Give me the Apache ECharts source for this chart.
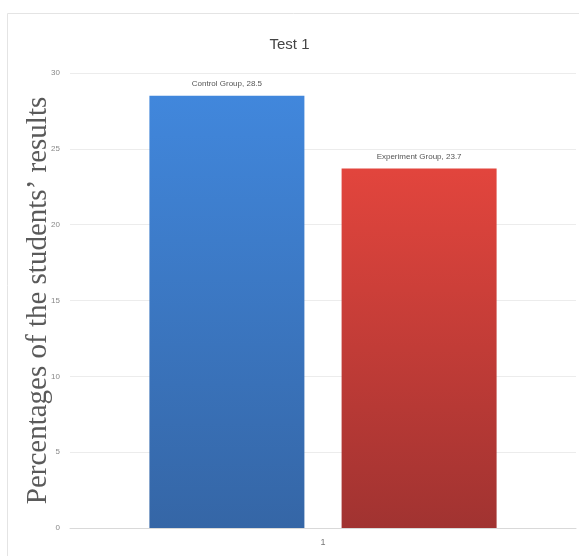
<!DOCTYPE html>
<html>
<head>
<meta charset="utf-8">
<script src="https://cdn.jsdelivr.net/npm/echarts@6/dist/echarts.min.js"></script>
<style>
  html, body { margin: 0; padding: 0; background: #fff; }
  #main { width: 579px; height: 556px; }
</style>
</head>
<body>
<div id="main"></div>
<script>
var categories = ['1']
var controlValues = [28.5]
var experimentValues = [23.7]
var yTicks = [0, 5, 10, 15, 20, 25, 30]

var chart = echarts.init(document.getElementById('main'))

function grad(top, bottom) {
  return new echarts.graphic.LinearGradient(0, 0, 0, 1, [
    { offset: 0, color: top },
    { offset: 1, color: bottom }
  ])
}

chart.setOption({
  backgroundColor: '#fff',
  animation: false,
  graphic: [{
    type: 'rect',
    shape: { x: 7.5, y: 13.5, width: 580, height: 560 },
    style: { fill: 'none', stroke: '#e4e4e4', lineWidth: 1 }
  }],
  title: {
    text: 'Test 1',
    left: 'center',
    top: 32,
    textStyle: { fontFamily: 'Liberation Sans Narrow, Liberation Sans', fontSize: 15, fontWeight: 'normal', color: '#444' }
  },
  grid: { left: 70, right: 3, top: 73, bottom: 28 },
  xAxis: {
    type: 'category',
    data: categories,
    axisLine: { lineStyle: { color: '#d9d9d9' } },
    axisTick: { show: false },
    axisLabel: { color: '#777', fontSize: 9, margin: 10 }
  },
  yAxis: {
    type: 'value',
    min: yTicks[0],
    max: yTicks[yTicks.length - 1],
    interval: 5,
    name: 'Percentages of the students\u2019 results',
    nameLocation: 'middle',
    nameGap: 17,
    nameMoveOverlap: false,
    nameTextStyle: { fontFamily: 'Liberation Serif, DejaVu Serif', fontSize: 29, color: '#5a5a5a' },
    axisLine: { show: false },
    axisTick: { show: false },
    axisLabel: { color: '#888', fontSize: 8, margin: 10 },
    splitLine: { lineStyle: { color: '#ececec' } }
  },
  series: [{
    name: 'Control Group',
    type: 'bar',
    data: controlValues,
    barWidth: 155,
    barGap: '24%',
    itemStyle: {
      color: grad('#4187dc', '#3566a6')
    },
    label: {
      show: true,
      position: 'top',
      distance: 8,
      formatter: function (p) { return p.seriesName + ', ' + p.value },
      fontSize: 8,
      color: '#555',
      fontFamily: 'Liberation Sans Narrow, Liberation Sans'
    }
  }, {
    name: 'Experiment Group',
    type: 'bar',
    data: experimentValues,
    barWidth: 155,
    itemStyle: {
      color: grad('#e2453d', '#a13331')
    },
    label: {
      show: true,
      position: 'top',
      distance: 8,
      formatter: function (p) { return p.seriesName + ', ' + p.value },
      fontSize: 8,
      color: '#555',
      fontFamily: 'Liberation Sans Narrow, Liberation Sans'
    }
  }]
})
</script>
</body>
</html>
